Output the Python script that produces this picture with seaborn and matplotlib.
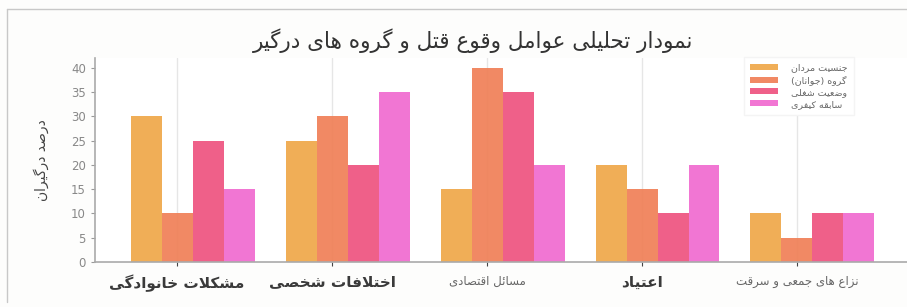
import matplotlib
matplotlib.use("Agg")
import matplotlib.pyplot as plt
from matplotlib.lines import Line2D
import pandas as pd
import seaborn as sns
import numpy as np

# data
categories = ["مشکلات خانوادگی", "اختلافات شخصی", "مسائل اقتصادی", "اعتیاد", "نزاع های جمعی و سرقت"]
groups = ["جنسیت مردان", "گروه (جوانان)", "وضعیت شغلی", "سابقه کیفری"]
men = [30, 25, 15, 20, 10]
youth = [10, 30, 40, 15, 5]
job = [25, 20, 35, 10, 10]
record = [15, 35, 20, 20, 10]
colors = ["#EFA84A", "#F08058", "#EE5480", "#F06CD0"]

# arabic presentation forms: isolated, final, initial, medial
FORMS = {
    'ا': ('\uFE8D', '\uFE8E', None, None),
    'ب': ('\uFE8F', '\uFE90', '\uFE91', '\uFE92'),
    'ت': ('\uFE95', '\uFE96', '\uFE97', '\uFE98'),
    'ج': ('\uFE9D', '\uFE9E', '\uFE9F', '\uFEA0'),
    'ح': ('\uFEA1', '\uFEA2', '\uFEA3', '\uFEA4'),
    'خ': ('\uFEA5', '\uFEA6', '\uFEA7', '\uFEA8'),
    'د': ('\uFEA9', '\uFEAA', None, None),
    'ر': ('\uFEAD', '\uFEAE', None, None),
    'ز': ('\uFEAF', '\uFEB0', None, None),
    'س': ('\uFEB1', '\uFEB2', '\uFEB3', '\uFEB4'),
    'ش': ('\uFEB5', '\uFEB6', '\uFEB7', '\uFEB8'),
    'ص': ('\uFEB9', '\uFEBA', '\uFEBB', '\uFEBC'),
    'ض': ('\uFEBD', '\uFEBE', '\uFEBF', '\uFEC0'),
    'ع': ('\uFEC9', '\uFECA', '\uFECB', '\uFECC'),
    'غ': ('\uFECD', '\uFECE', '\uFECF', '\uFED0'),
    'ف': ('\uFED1', '\uFED2', '\uFED3', '\uFED4'),
    'ق': ('\uFED5', '\uFED6', '\uFED7', '\uFED8'),
    'ک': ('\uFB8E', '\uFB8F', '\uFB90', '\uFB91'),
    'گ': ('\uFB92', '\uFB93', '\uFB94', '\uFB95'),
    'ل': ('\uFEDD', '\uFEDE', '\uFEDF', '\uFEE0'),
    'م': ('\uFEE1', '\uFEE2', '\uFEE3', '\uFEE4'),
    'ن': ('\uFEE5', '\uFEE6', '\uFEE7', '\uFEE8'),
    'ه': ('\uFEE9', '\uFEEA', '\uFEEB', '\uFEEC'),
    'و': ('\uFEED', '\uFEEE', None, None),
    'ی': ('\uFBFC', '\uFBFD', '\uFBFE', '\uFBFF'),
    'ئ': ('\uFE89', '\uFE8A', '\uFE8B', '\uFE8C'),
}


def shape(text):
    # join letters and lay them out right to left (matplotlib has no bidi)
    res = []
    i = 0
    n = len(text)
    while i < n:
        c = text[i]
        if c not in FORMS:
            res.append(c)
            i += 1
            continue
        prev = text[i - 1] if i > 0 else ''
        join_prev = prev in FORMS and FORMS[prev][2] is not None
        if c == 'ل' and i + 1 < n and text[i + 1] == 'ا':
            res.append('\uFEFC' if join_prev else '\uFEFB')
            i += 2
            continue
        nxt = text[i + 1] if i + 1 < n else ''
        join_next = FORMS[c][2] is not None and nxt in FORMS
        iso, fin, ini, med = FORMS[c]
        if join_prev and join_next:
            res.append(med)
        elif join_prev:
            res.append(fin)
        elif join_next:
            res.append(ini)
        else:
            res.append(iso)
        i += 1
    out = ''.join(reversed(res))
    return out.translate(str.maketrans('()', ')('))


rows = []
for g, vals in zip(groups, [men, youth, job, record]):
    for c, v in zip(categories, vals):
        rows.append({"cat": c, "group": shape(g), "value": v})
df = pd.DataFrame(rows)

sns.set_style("white")
plt.rcParams['font.family'] = ['DejaVu Sans']

fig = plt.figure(figsize=(9.07, 3.07), dpi=100, facecolor="#FDFDFC")
ax = fig.add_axes([95 / 907, 45 / 307, 812 / 907, 204 / 307])

sns.barplot(data=df, x="cat", y="value", hue="group", palette=colors,
            width=0.8, gap=0, alpha=0.93, saturation=1, errorbar=None,
            linewidth=0, edgecolor="none", ax=ax, zorder=2)

ax.set_xlim(-0.63, 4.61)
ax.set_ylim(0, 42)
ax.set_yticks(range(0, 41, 5))
ax.set_xticks(np.arange(len(categories)) - 0.1)
ax.set_xticklabels([shape(c) for c in categories])
sizes = [11, 11, 8.5, 11, 8.5]
weights = ["bold", "bold", "normal", "bold", "normal"]
tcols = ["#3A3A3A", "#3A3A3A", "#666666", "#3A3A3A", "#666666"]
for lab, s, w, col in zip(ax.get_xticklabels(), sizes, weights, tcols):
    lab.set_fontsize(s)
    lab.set_fontweight(w)
    lab.set_color(col)

ax.grid(axis="x", color="#E6E6E6", lw=1, zorder=0)
ax.grid(axis="y", visible=False)
ax.set_axisbelow(True)
ax.tick_params(axis="y", labelsize=8.5, labelcolor="#888888", color="#999999",
               length=3, direction="out", left=True)
ax.tick_params(axis="x", color="#444444", length=3, direction="out", bottom=True, pad=6)
for side in ["top", "right"]:
    ax.spines[side].set_visible(False)
for side in ["left", "bottom"]:
    ax.spines[side].set_color("#AAAAAA")
    ax.spines[side].set_linewidth(1.2)

ax.set_xlabel("")
ax.set_ylabel(shape("درصد درگیران"), fontsize=10, color="#444444", labelpad=16)
ax.set_title(shape("نمودار تحلیلی عوامل وقوع قتل و گروه های درگیر"),
             fontsize=15.5, color="#333333", x=0.465, y=1.01)

leg = ax.legend(loc="upper left", bbox_to_anchor=(0.793, 1.03), fontsize=6.8,
                frameon=True, facecolor="white", edgecolor="#F4F4F4",
                framealpha=1, handlelength=2.9, handleheight=0.6,
                labelspacing=0.3, borderpad=0.7, handletextpad=1.4, fancybox=False)
for t in leg.get_texts():
    t.set_color("#666666")

# thin frame around the screenshot
fig.add_artist(Line2D([7 / 907, 1], [1 - 9 / 307, 1 - 9 / 307], transform=fig.transFigure,
                      color="#C8C8C8", lw=1))
fig.add_artist(Line2D([7 / 907, 7 / 907], [1 - 9 / 307, 5 / 307], transform=fig.transFigure,
                      color="#C8C8C8", lw=1))

plt.savefig("out.png", dpi=100, facecolor=fig.get_facecolor())
